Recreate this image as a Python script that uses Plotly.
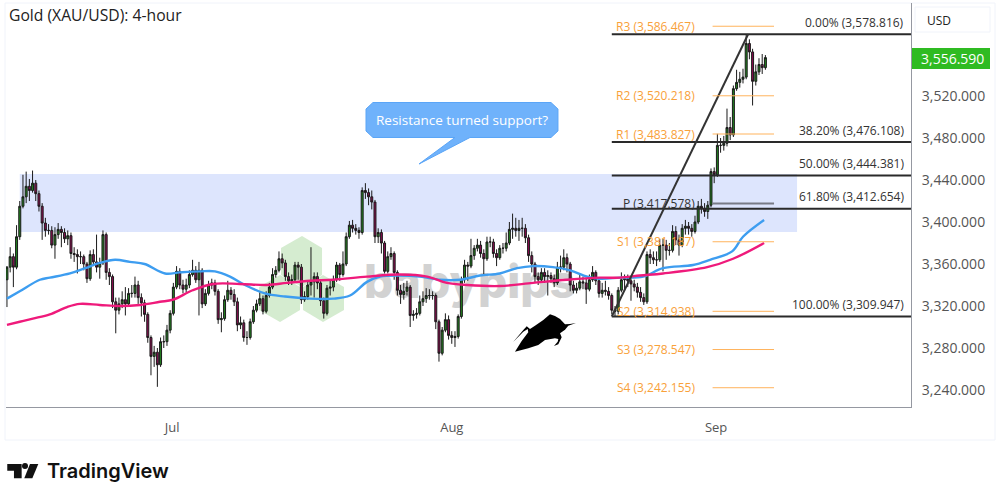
import plotly.graph_objects as go

opens = [3345,3357,3367,3357,3386,3415,3424,3434,3430,3437,3427,3415,3399,3392,3392,3378,3388,3393,3390,3384,
3387,3370,3369,3367,3367,3360,3346,3369,3362,3357,3361,3388,3352,3348,3324,3316,3322,3326,3322,3332,
3332,3340,3328,3323,3312,3290,3272,3276,3264,3286,3286,3297,3313,3338,3353,3340,3336,3340,3350,3354,
3345,3354,3322,3332,3340,3342,3334,3307,3308,3326,3335,3331,3324,3302,3304,3290,3290,3305,3316,3322,
3327,3315,3330,3338,3350,3354,3365,3361,3348,3344,3345,3359,3357,3326,3329,3340,3343,3348,3342,3325,
3313,3337,3338,3345,3359,3350,3360,3386,3397,3394,3392,3390,3430,3428,3424,3419,3386,3390,3380,3353,
3367,3370,3352,3335,3331,3334,3338,3311,3312,3313,3324,3327,3330,3330,3330,3305,3275,3297,3307,3292,
3290,3291,3310,3345,3359,3358,3368,3375,3378,3370,3365,3381,3381,3370,3366,3375,3375,3380,3393,3394,
3392,3394,3394,3385,3368,3360,3348,3345,3352,3348,3349,3346,3342,3357,3357,3366,3360,3340,3335,3337,
3343,3342,3336,3345,3352,3344,3332,3335,3334,3330,3316,3315,3335,3345,3346,3344,3341,3338,3333,3328,
3324,3369,3366,3364,3364,3378,3378,3373,3373,3391,3383,3378,3394,3396,3394,3391,3400,3415,3413,3410,
3416,3448,3445,3473,3473,3475,3490,3483,3527,3533,3536,3538,3570,3562,3534,3543,3550,3547]
highs = [3358,3376,3370,3397,3420,3445,3448,3441,3449,3440,3430,3418,3404,3398,3396,3395,3399,3396,3394,3392,
3390,3376,3374,3372,3369,3362,3373,3374,3388,3366,3392,3390,3356,3350,3328,3328,3334,3338,3337,3340,
3348,3344,3332,3326,3314,3292,3282,3280,3290,3292,3302,3316,3342,3358,3356,3345,3346,3354,3364,3358,
3362,3356,3336,3344,3346,3345,3336,3314,3330,3344,3338,3336,3328,3310,3307,3296,3308,3320,3326,3333,
3330,3334,3342,3356,3358,3372,3370,3364,3352,3350,3362,3362,3360,3334,3344,3376,3352,3352,3345,3328,
3340,3344,3349,3362,3361,3372,3390,3401,3402,3398,3395,3433,3437,3432,3430,3421,3394,3393,3382,3372,
3376,3372,3354,3340,3342,3344,3340,3316,3318,3330,3334,3337,3336,3334,3332,3307,3300,3313,3311,3296,
3296,3312,3348,3364,3362,3384,3378,3384,3382,3374,3386,3386,3384,3374,3378,3380,3390,3400,3408,3404,
3402,3404,3398,3388,3372,3362,3352,3356,3356,3354,3352,3350,3362,3368,3374,3370,3362,3344,3342,3350,
3348,3346,3350,3358,3354,3346,3342,3344,3338,3332,3320,3338,3352,3350,3350,3347,3345,3342,3338,3332,
3372,3374,3372,3372,3384,3384,3383,3380,3397,3396,3388,3398,3402,3400,3398,3406,3420,3422,3418,3420,
3451,3452,3484,3480,3482,3508,3500,3530,3545,3543,3546,3578.8,3574,3565,3550,3556,3560,3559]
lows = [3319,3352,3338,3355,3383,3413,3418,3420,3428,3420,3410,3383,3386,3388,3375,3365,3384,3376,3380,3378,
3365,3362,3351,3360,3354,3342,3344,3358,3352,3346,3359,3345,3340,3318,3294,3312,3318,3311,3320,3328,
3328,3322,3310,3305,3285,3254,3262,3243,3262,3280,3282,3294,3311,3336,3336,3332,3333,3337,3348,3342,
3311,3318,3320,3330,3336,3330,3303,3295,3306,3324,3326,3320,3296,3298,3286,3283,3288,3303,3314,3320,
3312,3313,3328,3336,3347,3352,3356,3344,3340,3340,3343,3345,3322,3324,3326,3330,3328,3336,3320,3308,
3311,3330,3334,3343,3344,3348,3358,3384,3390,3388,3384,3388,3422,3416,3412,3380,3380,3370,3351,3351,
3364,3345,3330,3322,3326,3330,3300,3306,3308,3311,3320,3323,3326,3326,3298,3267,3273,3295,3288,3284,
3281,3289,3308,3342,3344,3356,3364,3372,3366,3349,3363,3376,3366,3358,3364,3370,3372,3378,3384,3386,
3382,3386,3380,3362,3352,3342,3340,3342,3342,3330,3342,3338,3340,3352,3354,3352,3334,3332,3332,3335,
3336,3322,3334,3343,3340,3328,3328,3330,3326,3312,3310,3312,3333,3336,3338,3325,3334,3328,3324,3321,
3322,3360,3360,3358,3362,3353,3364,3368,3371,3378,3368,3376,3388,3388,3386,3389,3398,3408,3405,3403,
3414,3437,3443,3466,3468,3472,3478,3481,3525,3528,3532,3536,3555,3511,3530,3540,3541,3545]
closes = [3357,3367,3357,3386,3415,3424,3434,3430,3437,3427,3415,3399,3392,3392,3378,3388,3393,3390,3384,3387,
3370,3369,3367,3367,3360,3346,3369,3362,3357,3361,3388,3352,3348,3324,3316,3322,3326,3322,3332,3332,
3340,3328,3323,3312,3290,3272,3276,3264,3286,3286,3297,3313,3338,3353,3340,3336,3340,3350,3354,3345,
3354,3322,3332,3340,3342,3334,3307,3308,3326,3335,3331,3324,3302,3304,3290,3290,3305,3316,3322,3327,
3315,3330,3338,3350,3354,3365,3361,3348,3344,3345,3359,3357,3326,3329,3340,3343,3348,3342,3325,3313,
3337,3338,3345,3359,3350,3360,3386,3397,3394,3392,3390,3430,3428,3424,3419,3386,3390,3380,3353,3367,
3370,3352,3335,3331,3334,3338,3311,3312,3313,3324,3327,3330,3330,3330,3305,3275,3297,3307,3292,3290,
3291,3310,3345,3359,3358,3368,3375,3378,3370,3365,3381,3381,3370,3366,3375,3375,3380,3393,3394,3392,
3394,3394,3385,3368,3360,3348,3345,3352,3348,3349,3346,3342,3357,3357,3366,3360,3340,3335,3337,3343,
3342,3336,3345,3352,3344,3332,3335,3334,3330,3316,3315,3335,3345,3346,3344,3341,3338,3333,3328,3324,
3369,3366,3364,3364,3378,3378,3373,3373,3391,3383,3378,3394,3396,3394,3391,3400,3415,3413,3410,3416,
3448,3445,3473,3473,3475,3490,3483,3527,3533,3536,3538,3570,3562,3534,3543,3550,3547,3556.59]

blue_x = [0,4,10.3,13.4,19.7,24.4,29,33.8,38.4,43,49.4,54,60.3,65,69.7,74.4,80.6,86.9,94.7,101.9,107.2,112.5,
116.6,122.8,129,135.3,141.6,147.8,154,159.4,164.4,170.6,176,181.3,185.3,191.6,198.8,205,214.4,219.7,226.6,230,236.6]
blue_y = [3327,3334,3345,3347,3351,3356,3361,3364,3362,3360,3351,3352,3353,3353,3348,3340,3332,3329,3327,3327,3330,3343,
3348,3349,3348,3345,3345,3349,3351,3356,3358,3357,3354,3348,3346,3347,3348,3356,3359,3364,3372,3386,3402]
pink_x = [0,4,8.1,13.4,18.8,22.8,29,35.3,41.6,47.8,51.9,58,64.4,72.8,81.3,87.5,94.7,101.9,112.5,122.8,131.3,137.5,
143.8,154,164.4,175,185.3,191.6,197.8,205,218.8,226.9,236.6]
pink_y = [3302,3305,3308,3312,3319,3322,3321,3320,3321,3324,3326,3335,3341,3341,3340,3342,3344,3345,3348,3350,3348,3342,
3340,3339,3342,3345,3347,3347,3349,3351,3357,3365,3380]

y_ticks = [3240,3280,3320,3360,3400,3440,3480,3520]
month_pos = [51.6,139,221.6]
month_names = ["Jul","Aug","Sep"]
fib_pct = ["0.00%","38.20%","50.00%","61.80%","100.00%"]
fib_levels = [3578.816,3476.108,3444.381,3412.654,3309.947]
pivot_names = ["R3","R2","R1","P","S1","S2","S3","S4"]
pivot_levels = [3586.467,3520.218,3483.827,3417.578,3381.187,3314.938,3278.547,3242.155]
zone_top = 3445.7
zone_bottom = 3390.5
last_price = 3556.59

FONT = "Open Sans"

# screen pixels -> paper coords, plot area is 6..911 x 3..407
def px(x):
    return (x - 6) / 905
def py(y):
    return (407 - y) / 404

def poly(points):
    return "M" + " L".join(f"{px(x):.4f},{py(y):.4f}" for x, y in points) + " Z"

def note(x, y, text, color, size=12, anchor="right", yref="paper", yshift=0, weight="normal", family=FONT):
    fig.add_annotation(x=px(x), y=py(y) if yref == "paper" else y, xref="paper", yref=yref, text=text,
                       showarrow=False, xanchor=anchor, yanchor="middle", yshift=yshift,
                       font=dict(family=family, size=size, color=color, weight=weight))

fig = go.Figure()

fig.add_trace(go.Scatter(x=blue_x, y=blue_y, mode="lines", line=dict(color="#3d9df0", width=2.4, shape="spline")))
fig.add_trace(go.Scatter(x=pink_x, y=pink_y, mode="lines", line=dict(color="#ef1a7b", width=2.4, shape="spline")))
fig.add_trace(go.Candlestick(x=list(range(len(closes))), open=opens, high=highs, low=lows, close=closes,
                             increasing=dict(fillcolor="#22801f", line=dict(color="#1a1a1a", width=1)),
                             decreasing=dict(fillcolor="#8a0c50", line=dict(color="#1a1a1a", width=1)),
                             whiskerwidth=0))

fig.update_layout(
    width=1000, height=487, autosize=False,
    margin=dict(l=6, r=89, t=3, b=80),
    paper_bgcolor="white", plot_bgcolor="white",
    showlegend=False, boxgap=0.12,
    xaxis=dict(range=[-0.3, 282.5], rangeslider=dict(visible=False), showgrid=False, zeroline=False,
               tickvals=month_pos, ticktext=month_names, ticks="", ticklabelstandoff=8,
               showline=True, linecolor="#9598a1", linewidth=1,
               tickfont=dict(family=FONT, size=13, color="#555555")),
    yaxis=dict(range=[3223.8, 3608.6], side="right", showgrid=False, zeroline=False,
               tickvals=y_ticks, tickformat=",.3f", ticks="", ticklabelstandoff=7,
               showline=True, linecolor="#9598a1", linewidth=1,
               tickfont=dict(family=FONT, size=14, color="#555555")),
)

# outer frame
fig.add_shape(type="rect", xref="paper", yref="paper", x0=px(5), x1=px(995), y0=py(440), y1=py(3),
              line=dict(color="#f0f3fa", width=1), layer="below")

# support zone
fig.add_shape(type="rect", x0=4, x1=246.9, y0=zone_bottom, y1=zone_top, fillcolor="#dde5fd",
              line_width=0, layer="below")

# babypips watermark
for hexagon in [
    [(302, 236), (322, 248), (322, 275), (302, 287), (281, 275), (281, 248)],
    [(280, 275), (300, 287), (300, 310), (280, 322), (259, 310), (259, 287)],
    [(323, 275), (344, 287), (344, 310), (323, 322), (303, 310), (303, 287)],
]:
    fig.add_shape(type="path", xref="paper", yref="paper", path=poly(hexagon), fillcolor="#d5ecd0",
                  line_width=0, layer="below")
fig.add_shape(type="rect", xref="paper", yref="paper", x0=px(350), x1=px(590), y0=py(310), y1=py(250),
              line_width=0, fillcolor="rgba(0,0,0,0)", layer="below",
              label=dict(text="babypips", textposition="middle center",
                         font=dict(family="Inter", size=46, color="#d2d2d2", weight=800)))

# fib levels
for level in fib_levels:
    fig.add_shape(type="line", x0=189, x1=282.5, y0=level, y1=level, line=dict(color="#2a2a2a", width=2))
fig.add_shape(type="line", x0=189, x1=231.6, y0=fib_levels[4], y1=fib_levels[0], line=dict(color="#333333", width=2))
for pct, level in zip(fib_pct, fib_levels):
    note(906, level, f"{pct} ({level:,.3f})", "#333333", yref="y", yshift=12)

# pivot levels
for name, level in zip(pivot_names, pivot_levels):
    color = "#787b86" if name == "P" else "#ffb35c"
    fig.add_shape(type="line", x0=220.5, x1=239.7, y0=level, y1=level,
                  line=dict(color=color, width=2 if name == "P" else 1))
    note(697, level, f"{name} ({level:,.3f})", "#333333" if name == "P" else "#f9a13a", yref="y")

# callout
fig.add_shape(type="path", xref="paper", yref="paper", fillcolor="#6fb2fb", line=dict(color="#5aa5f7", width=1),
              path=poly([(373, 102.5), (551, 102.5), (558, 109), (558, 131), (551, 137.5), (470, 137.5), (419, 164),
                         (455, 137.5), (373, 137.5), (366, 131), (366, 109)]))
note(462, 119.5, "Resistance turned support?", "white", size=13.5, anchor="center")

# bull
fig.add_shape(type="path", xref="paper", yref="paper", fillcolor="#000000", line_width=0,
              path=poly([(515, 351.7), (528.3, 348.3), (538.3, 345), (545, 340), (555, 338.3), (558.3, 339), (557.7, 341.7),
                         (554, 346), (558.3, 344.3), (561.7, 337.3), (560, 333.3), (565, 329.7), (568.3, 325.7),
                         (576, 323), (570, 324), (565, 324.3), (560, 319), (555, 316), (550, 314.3), (543.3, 320),
                         (535, 325.7), (530, 329), (526.7, 326.3), (523.3, 330), (513, 342.3), (523.3, 331.7),
                         (527.7, 329), (528.3, 332.3), (521.7, 341)]))

# title, currency box, price tag
note(7, 15, "Gold (XAU/USD): 4-hour", "#222222", size=15.7, anchor="left")
fig.add_shape(type="rect", xref="paper", yref="paper", x0=px(915), x1=px(990), y0=py(32), y1=py(7),
              line=dict(color="#f0f3fa", width=1), fillcolor="white")
note(925, 20, "USD", "#222222", size=12, anchor="left")
fig.add_shape(type="rect", xref="paper", yref="paper", x0=px(912), x1=px(990), y0=py(69), y1=py(48),
              fillcolor="#2fbb22", line_width=0)
note(919, 58.5, f"{last_price:,.3f}", "white", size=14, anchor="left")

# TradingView logo
for shape_pts in [
    [(7.3, 464), (21.7, 464), (21.7, 478.3), (14, 478.3), (14, 470.7), (7.3, 470.7)],
    [(30, 464), (38.3, 464), (32.3, 478.3), (24.3, 478.3)],
]:
    fig.add_shape(type="path", xref="paper", yref="paper", path=poly(shape_pts), fillcolor="#111111", line_width=0)
fig.add_shape(type="circle", xref="paper", yref="paper", x0=px(22), x1=px(28), y0=py(469), y1=py(463),
              fillcolor="#111111", line_width=0)
note(45, 471, "TradingView", "#111111", size=20, anchor="left", weight=600, family="Inter")

# page has a default 8px body margin, the picture needs the figure at 0,0
fig.write_html("out.html", config={"displayModeBar": False}, post_script="document.body.style.margin='0';")
